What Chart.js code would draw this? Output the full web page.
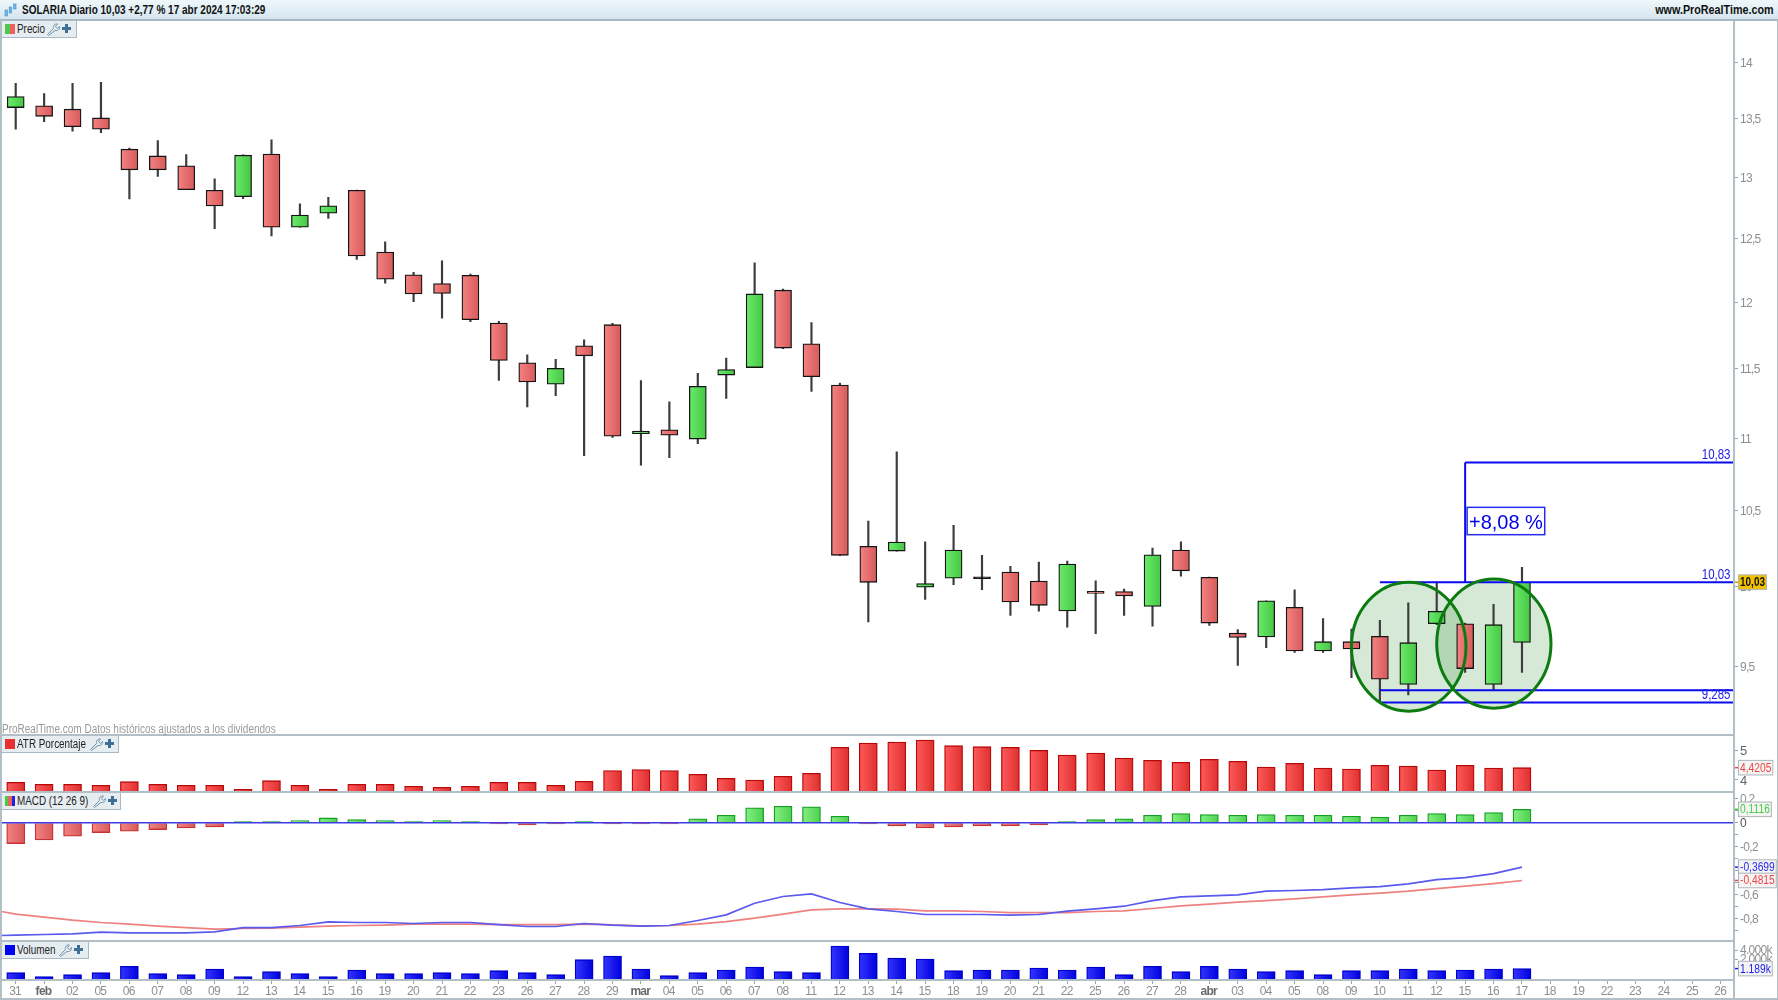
<!DOCTYPE html>
<html lang="es"><head><meta charset="utf-8"><title>SOLARIA Diario</title>
<script src="https://cdn.jsdelivr.net/npm/chart.js@4/dist/chart.umd.min.js"></script>
<style>
html,body{margin:0;padding:0;background:#fff;width:1778px;height:1000px;overflow:hidden}
#page{position:relative;width:1778px;height:1000px;font-family:"Liberation Sans",Arial,sans-serif;filter:blur(.35px)}
canvas{position:absolute;left:0;display:block}
.hdr{position:absolute;left:0;top:0;width:1778px;height:19px;background:linear-gradient(#eef7fb,#d5e6ef);border-bottom:2px solid #a9b9c3;box-sizing:content-box}
.hdr span{position:absolute;top:3px;font:bold 12.5px "Liberation Sans",Arial,sans-serif;color:#111;white-space:nowrap}
.sep{position:absolute;background:#b3bfc6}
.pill{position:absolute;left:2px;height:16px;box-sizing:content-box;background:#e6edf1;border-right:1px solid #a9b9c3;border-bottom:1px solid #a9b9c3;font-size:12.5px;color:#222;line-height:17px;white-space:nowrap}
.pill b{font-weight:normal;position:absolute;left:15px;top:0;transform:scaleX(.79);transform-origin:0 0}
.pill svg{position:absolute;top:2px}
.pill i{position:absolute;top:3px;left:3px;width:10px;height:10px}
#note{position:absolute;left:2px;top:722px;font-size:12.5px;color:#9a9a9a;white-space:nowrap;transform:scaleX(.8);transform-origin:0 0}
</style></head><body><div id="page">
<div class="hdr">
<svg style="position:absolute;left:4px;top:3px" width="13" height="15" viewBox="0 0 13 15"><g fill="#6fb5e6" stroke="#4f9ad0" stroke-width=".7"><rect x="1" y="7" width="2.4" height="6"/><rect x="5.2" y="4" width="2.4" height="6"/><rect x="9.6" y="1" width="2.4" height="5"/></g></svg>
<span style="left:22px;transform-origin:0 0;transform:scaleX(.8)">SOLARIA Diario 10,03 +2,77 % 17 abr 2024 17:03:29</span>
<span style="right:4px;transform-origin:100% 0;transform:scaleX(.86)">www.ProRealTime.com</span>
</div>
<canvas id="cPrice" width="1778" height="714" style="top:20px"></canvas>
<canvas id="cAtr" width="1778" height="57" style="top:735px"></canvas>
<canvas id="cMacd" width="1778" height="149" style="top:792px"></canvas>
<canvas id="cVol" width="1778" height="58" style="top:941px"></canvas>
<div class="sep" style="left:0;top:20px;width:2px;height:979px"></div>
<div class="sep" style="left:1733px;top:20px;width:2px;height:979px"></div>
<div class="sep" style="left:0;top:734px;width:1734px;height:2px"></div>
<div class="sep" style="left:0;top:791px;width:1734px;height:2px"></div>
<div class="sep" style="left:0;top:940px;width:1734px;height:2px"></div>
<div class="sep" style="left:0;top:979px;width:1734px;height:2px"></div>
<div class="sep" style="left:0;top:998px;width:1778px;height:2px"></div>
<div class="sep" style="left:1777px;top:20px;width:1px;height:979px"></div>
<div id="note">ProRealTime.com Datos históricos ajustados a los dividendos</div>
<div class="pill" style="top:21px;width:74px"><i style="background:linear-gradient(90deg,#4cc84c 50%,#ee6060 50%)"></i><b>Precio</b><svg style="left:45px" width="13" height="13" viewBox="0 0 13 13"><path d="M1.500 12.500l-1-1 6-6C5.800 3 7.500.5 10.500 1L8.500 3.200l.8 1.300 1.300.8L12.500 3.500C13 6.500 10.500 8 8 7.500z" fill="none" stroke="#6f93ad"/></svg><svg style="left:59px" width="11" height="11" viewBox="0 0 11 11"><path d="M4 1h3v3h3v3H7v3H4V7H1V4h3z" fill="#3f6f94"/></svg></div>
<div class="pill" style="top:736px;width:116px"><i style="background:#e83030"></i><b>ATR Porcentaje</b><svg style="left:88px" width="13" height="13" viewBox="0 0 13 13"><path d="M1.500 12.500l-1-1 6-6C5.800 3 7.500.5 10.500 1L8.500 3.200l.8 1.300 1.300.8L12.500 3.500C13 6.500 10.500 8 8 7.500z" fill="none" stroke="#6f93ad"/></svg><svg style="left:102px" width="11" height="11" viewBox="0 0 11 11"><path d="M4 1h3v3h3v3H7v3H4V7H1V4h3z" fill="#3f6f94"/></svg></div>
<div class="pill" style="top:793px;width:118px"><i style="background:linear-gradient(90deg,#4cc84c 33%,#ee6060 33%,#ee6060 66%,#2020e0 66%)"></i><b>MACD (12 26 9)</b><svg style="left:91px" width="13" height="13" viewBox="0 0 13 13"><path d="M1.500 12.500l-1-1 6-6C5.800 3 7.500.5 10.500 1L8.500 3.200l.8 1.300 1.300.8L12.500 3.500C13 6.500 10.500 8 8 7.500z" fill="none" stroke="#6f93ad"/></svg><svg style="left:105px" width="11" height="11" viewBox="0 0 11 11"><path d="M4 1h3v3h3v3H7v3H4V7H1V4h3z" fill="#3f6f94"/></svg></div>
<div class="pill" style="top:942px;width:86px"><i style="background:#0000f0"></i><b>Volumen</b><svg style="left:57px" width="13" height="13" viewBox="0 0 13 13"><path d="M1.500 12.500l-1-1 6-6C5.800 3 7.500.5 10.500 1L8.500 3.200l.8 1.300 1.300.8L12.500 3.500C13 6.500 10.500 8 8 7.500z" fill="none" stroke="#6f93ad"/></svg><svg style="left:71px" width="11" height="11" viewBox="0 0 11 11"><path d="M4 1h3v3h3v3H7v3H4V7H1V4h3z" fill="#3f6f94"/></svg></div>
</div>
<script>
const dates=["31","feb","02","05","06","07","08","09","12","13","14","15","16","19","20","21","22","23","26","27","28","29","mar","04","05","06","07","08","11","12","13","14","15","18","19","20","21","22","25","26","27","28","abr","03","04","05","08","09","10","11","12","15","16","17","18","19","22","23","24","25","26"];
const opens=[13.599,13.614,13.585,13.509,13.241,13.184,13.101,12.897,12.844,13.199,12.594,12.708,12.897,12.395,12.216,12.147,12.212,11.844,11.545,11.388,11.672,11.831,11.033,11.059,10.994,11.455,11.51,12.096,11.687,11.381,10.263,10.232,9.998,10.055,10.052,10.095,10.037,9.846,9.969,9.969,9.875,10.239,10.061,9.707,9.683,9.869,9.597,9.654,9.687,9.393,9.766,9.766,9.393,9.65];
const highs=[13.813,13.721,13.813,13.821,13.25,13.314,13.195,12.991,13.193,13.32,12.784,12.839,12.899,12.477,12.235,12.326,12.222,11.857,11.605,11.571,11.717,11.841,11.415,11.26,11.468,11.58,12.31,12.104,11.848,11.396,10.431,10.905,10.293,10.403,10.204,10.132,10.16,10.167,10.038,9.986,10.252,10.293,10.063,9.73,9.91,9.98,9.798,9.733,9.788,9.898,10.03,9.77,9.888,10.125];
const lows=[13.411,13.476,13.394,13.382,12.825,13.011,12.902,12.583,12.828,12.525,12.594,12.666,12.336,12.151,12.008,11.88,11.854,11.415,11.224,11.305,10.877,11.005,10.812,10.863,10.961,11.284,11.51,11.65,11.335,10.202,9.778,10.232,9.92,10.014,9.981,9.818,9.845,9.745,9.704,9.818,9.751,10.068,9.755,9.508,9.617,9.588,9.588,9.434,9.286,9.33,9.76,9.466,9.36,9.466];
const closes=[13.695,13.523,13.434,13.411,13.067,13.067,12.902,12.768,13.19,12.594,12.693,12.768,12.365,12.181,12.067,12.07,11.869,11.563,11.405,11.504,11.597,11.015,11.05,11.022,11.373,11.495,12.067,11.655,11.443,10.204,10.029,10.291,10.021,10.239,10.052,9.903,9.882,10.147,9.958,9.941,10.208,10.103,9.77,9.68,9.91,9.597,9.654,9.609,9.425,9.648,9.844,9.489,9.76,10.03];
const atrValues=[3.92,3.852,3.852,3.818,3.943,3.852,3.818,3.818,3.681,3.977,3.818,3.681,3.852,3.852,3.784,3.75,3.784,3.92,3.92,3.818,3.954,4.319,4.353,4.319,4.193,4.057,4,4.125,4.228,5.115,5.263,5.297,5.365,5.172,5.138,5.115,5.013,4.853,4.922,4.751,4.671,4.603,4.705,4.637,4.444,4.569,4.41,4.375,4.5,4.478,4.341,4.5,4.41,4.4205];
const macdHist=[-.174,-.143,-.1125,-.082,-.071,-.057,-.043,-.035,.01,.01,.018,.04,.026,.018,.01,.018,.01,-.01,-.018,-.01,.01,-.01,-.01,-.01,.032,.0625,.124,.1375,.132,.054,-.01,-.026,-.043,-.035,-.026,-.026,-.018,.01,.026,.032,.0625,.076,.068,.0625,.068,.0625,.0625,.054,.046,.0625,.076,.068,.085,.1116];
const macdLine=[-.9375,-.932,-.926,-.9125,-.918,-.918,-.918,-.91,-.874,-.874,-.857,-.826,-.832,-.832,-.84,-.832,-.832,-.849,-.865,-.865,-.84,-.854,-.8625,-.857,-.815,-.768,-.671,-.615,-.593,-.665,-.718,-.74,-.765,-.765,-.765,-.771,-.765,-.7375,-.718,-.696,-.649,-.618,-.61,-.601,-.571,-.565,-.557,-.543,-.532,-.51,-.474,-.457,-.424,-.3699];
const macdSignal=[-.7625,-.7875,-.8125,-.832,-.846,-.8625,-.874,-.8875,-.882,-.879,-.871,-.8625,-.857,-.854,-.846,-.846,-.846,-.849,-.849,-.849,-.846,-.851,-.86,-.857,-.846,-.824,-.796,-.7625,-.726,-.718,-.718,-.721,-.735,-.735,-.74,-.749,-.749,-.749,-.74,-.735,-.715,-.693,-.679,-.6625,-.649,-.635,-.618,-.601,-.5875,-.571,-.549,-.529,-.507,-.4815];
const macdLeadIn=-.94, signalLeadIn=-.74;
const volumes=[763,347,555,763,1423,659,555,1145,347,868,659,347,1041,659,659,763,659,972,763,555,2117,2498,1145,451,763,1041,1353,868,763,3539,2776,2290,2186,972,1041,1041,1249,1041,1353,555,1423,868,1423,1145,868,972,555,972,972,1145,972,1041,1145,1189];
const priceTicks=[14,13.5,13,12.5,12,11.5,11,10.5,10,9.5];
const atrTicks=[5,4];
const macdTicks=[.2,.1,0,-.1,-.2,-.3,-.4,-.5,-.6,-.7,-.8,-.9];
const volTickValues=[3100,2150];
const volTickLabels=["4.000k","2.000k"];
const levels=[10.83,10.03,9.358,9.285];
const levelLabels=["10,83","10,03","","9,285"];
const levelStarts=[51,48,48,48];
const ellipses=[{x0:47,x1:51.03,top:10.03,bottom:9.233},{x0:50,x1:54.02,top:10.05,bottom:9.251}];
const pctBox={x0:51.07,x1:53.8,top:10.523,bottom:10.34,text:"+8,08 %"};

const FONT='"Liberation Sans",Arial,sans-serif';
Chart.defaults.font.family=FONT;
Chart.defaults.font.size=12;
const comma=v=>String(+v.toFixed(4)).replace('.',',');
const XMIN=-.5,XMAX=60.46,AXW=44;
const noPad=s=>{s.paddingLeft=s.paddingRight=s.paddingTop=s.paddingBottom=0;};
function xScale(show){return {type:'linear',min:XMIN,max:XMAX,offset:false,stacked:true,display:show,
  afterBuildTicks:s=>{s.ticks=dates.map((d,i)=>({value:i}))},
  afterFit:s=>{s.height=show?19:0;noPad(s);},
  grid:{display:true,offset:false,drawOnChartArea:false,drawTicks:true,tickLength:4,tickColor:'#9aa6ad'},
  border:{display:false},
  ticks:{autoSkip:false,maxRotation:0,padding:0,labelOffset:-.6,
    callback:v=>dates[v],
    color:c=>/\d/.test(dates[c.index]||'1')?'#8f8f8f':'#6a6a6a',
    font:c=>({family:FONT,size:12,weight:/\d/.test(dates[c.index]||'1')?'normal':'bold'})}};}
function yScale(o){return Object.assign({position:'right',
  afterFit:s=>{s.width=AXW;noPad(s);},
  border:{display:false},
  grid:{drawOnChartArea:false,drawTicks:true,tickLength:4,tickColor:'#9aa6ad'},
  },o);}
function grad(chart,i,w,c1,c2){
  const px=chart.scales.x.getPixelForValue(i);
  if(!isFinite(px))return c2;
  const g=chart.ctx.createLinearGradient(px-w/2,0,px+w/2,0);
  g.addColorStop(0,c1);g.addColorStop(1,c2);return g;}
const idx=a=>a.map((v,i)=>({x:i,y:v}));
function narrow(c,text,x,y,align,sx){
  c.save();c.translate(x,y);c.scale(sx,1);c.textAlign=align;c.fillText(text,0,0);c.restore();}
const condensePlugin={id:'condense',beforeDraw(chart){chart.ctx.letterSpacing='-.7px';}};
const tagPlugin={id:'tags',afterDraw(chart){
  const items=chart.options.plugins.tags&&chart.options.plugins.tags.items;if(!items)return;
  const c=chart.ctx,y=chart.scales.y;
  c.save();c.letterSpacing='0px';c.textBaseline='middle';c.textAlign='left';
  items.forEach(t=>{
    c.font=(t.bold?'bold ':'')+'12.5px '+FONT;
    const p=y.getPixelForValue(t.value),w=c.measureText(t.text).width*(t.bold?.8:.82)+3,x=1738.5;
    c.strokeStyle=t.color;c.lineWidth=1.5;c.beginPath();c.moveTo(1734,p);c.lineTo(x,p);c.stroke();
    c.fillStyle=t.bg||'#f4f4f4';c.fillRect(x,p-7.3,w,14.6);
    c.strokeStyle='#aeb6ba';c.lineWidth=1;c.strokeRect(x,p-7.3,w,14.6);
    c.fillStyle=t.fg||t.color;narrow(c,t.text,x+1.5,p+.5,'left',t.bold?.8:.82);
  });c.restore();}};
function ellipsePath(chart,e){
  const X=chart.scales.x,Y=chart.scales.y,c=chart.ctx;
  const l=X.getPixelForValue(e.x0),r=X.getPixelForValue(e.x1),t=Y.getPixelForValue(e.top),b=Y.getPixelForValue(e.bottom);
  c.beginPath();c.ellipse((l+r)/2,(t+b)/2,(r-l)/2,(b-t)/2,0,0,Math.PI*2);}
const drawingsPlugin={id:'drawings',
 beforeDatasetsDraw(chart){
  const c=chart.ctx;c.save();
  ellipses.forEach(e=>{ellipsePath(chart,e);c.fillStyle='rgba(0,120,0,.16)';c.fill();});
  c.restore();},
 afterDatasetsDraw(chart){
  const c=chart.ctx,X=chart.scales.x,Y=chart.scales.y;
  c.save();c.letterSpacing='0px';
  ellipses.forEach(e=>{ellipsePath(chart,e);c.strokeStyle='#0c7c10';c.lineWidth=3;c.stroke();});
  const l=X.getPixelForValue(pctBox.x0),r=X.getPixelForValue(pctBox.x1),t=Y.getPixelForValue(pctBox.top),b=Y.getPixelForValue(pctBox.bottom);
  c.fillStyle='#fff';c.fillRect(l,t,r-l,b-t);c.strokeStyle='#2a2af0';c.lineWidth=1.5;c.strokeRect(l,t,r-l,b-t);
  c.fillStyle='#0000e6';c.font='20px '+FONT;c.textAlign='center';c.textBaseline='middle';
  c.fillText(pctBox.text,(l+r)/2,(t+b)/2+2.5);
  c.font='14px '+FONT;c.textBaseline='middle';c.fillStyle='#2020e8';
  levels.forEach((v,i)=>{if(levelLabels[i])narrow(c,levelLabels[i],1730.5,Y.getPixelForValue(v)-7,'right',.82);});
  c.restore();}};
function base(datasets,scales,extra){return {type:'bar',data:{datasets},
  options:{responsive:false,animation:false,devicePixelRatio:1,events:[],
    layout:{autoPadding:false,padding:{left:1.5,right:0,top:0,bottom:0}},
    plugins:Object.assign({legend:{display:false},tooltip:{enabled:false}},extra||{}),scales}};}
const dir=i=>closes[i]>opens[i]?1:closes[i]<opens[i]?-1:0;

new Chart(document.getElementById('cPrice'),Object.assign(base([
  {label:'Mecha',order:5,data:opens.map((o,i)=>({x:i,y:[lows[i],highs[i]]})),barThickness:1.5,backgroundColor:'#3c3c3c',borderWidth:0,borderSkipped:false},
  {label:'Precio',order:4,data:opens.map((o,i)=>({x:i,y:[o,closes[i]]})),barThickness:17,minBarLength:2,borderWidth:1.3,borderSkipped:false,borderColor:'#141414',
    backgroundColor:c=>{if(c.dataIndex===undefined)return '#888';const d=dir(c.dataIndex);
      return d>0?grad(c.chart,c.dataIndex,17,'#6aec6a','#45c645'):d<0?grad(c.chart,c.dataIndex,17,'#f58282','#d65a5a'):'#111';}},
  ...levels.map((v,i)=>({type:'line',order:2,data:[{x:levelStarts[i],y:v},{x:XMAX,y:v}],borderColor:'#0a0aee',borderWidth:2,pointRadius:0})),
  {type:'line',order:2,data:[{x:levelStarts[0],y:levels[0]},{x:levelStarts[0],y:levels[1]}],borderColor:'#0a0aee',borderWidth:2,pointRadius:0}
],{x:xScale(false),y:yScale({type:'logarithmic',min:9.099,max:14.385,
  afterBuildTicks:s=>{s.ticks=priceTicks.map(v=>({value:v}))},
  ticks:{autoSkip:false,padding:2,labelOffset:1,color:'#8f8f8f',font:{size:12},callback:v=>comma(v)}})},
  {tags:{items:[{value:closes[closes.length-1],text:'10,03',color:'#c79a00',bg:'#f2c200',fg:'#111',bold:true}]}}),{plugins:[condensePlugin,drawingsPlugin,tagPlugin]}));

new Chart(document.getElementById('cAtr'),Object.assign(base([
  {label:'ATR Porcentaje',data:idx(atrValues),barThickness:18,borderWidth:1.3,borderColor:'#b80808',borderSkipped:'bottom',
   backgroundColor:c=>c.dataIndex===undefined?'#e33':grad(c.chart,c.dataIndex,18,'#ff5a5a','#dd3030')}
],{x:xScale(false),y:yScale({min:3.59,max:5.536,
  afterBuildTicks:s=>{s.ticks=atrTicks.map(v=>({value:v}))},
  ticks:{autoSkip:false,padding:2,labelOffset:1,color:'#666',font:{size:13},callback:v=>comma(v)}})},
  {tags:{items:[{value:atrValues[atrValues.length-1],text:'4,4205',color:'#ee4444'}]}}),{plugins:[condensePlugin,tagPlugin]}));

new Chart(document.getElementById('cMacd'),Object.assign(base([
  {label:'Histograma',order:5,data:idx(macdHist),barThickness:18,borderWidth:1.3,borderSkipped:'bottom',
   borderColor:c=>macdHist[c.dataIndex]>=0?'#14a024':'#c83232',
   backgroundColor:c=>{if(c.dataIndex===undefined)return '#888';return macdHist[c.dataIndex]>=0?grad(c.chart,c.dataIndex,18,'#82f082','#4fd04f'):grad(c.chart,c.dataIndex,18,'#f28484','#d85a5a');}},
  {type:'line',label:'Cero',order:3,data:[{x:XMIN,y:0},{x:XMAX,y:0}],borderColor:'#3c3ce6',borderWidth:1.6,pointRadius:0},
  {type:'line',label:'Señal',order:2,data:[{x:XMIN,y:signalLeadIn},...idx(macdSignal)],borderColor:'#ee8080',borderWidth:1.7,pointRadius:0},
  {type:'line',label:'MACD',order:1,data:[{x:XMIN,y:macdLeadIn},...idx(macdLine)],borderColor:'#5a5aee',borderWidth:1.7,pointRadius:0}
],{x:xScale(false),y:yScale({min:-.986,max:.256,
  afterBuildTicks:s=>{s.ticks=macdTicks.map(v=>({value:v}))},
  ticks:{autoSkip:false,padding:2,labelOffset:1,color:c=>c.tick&&c.tick.value===0?'#555':'#8f8f8f',font:{size:12},
    callback:v=>Math.round(v*10)%2===0?comma(v):''}})},
  {tags:{items:[
    {value:macdHist[macdHist.length-1],text:'0,1116',color:'#46cc46'},
    {value:macdLine[macdLine.length-1],text:'-0,3699',color:'#2a2aee'},
    {value:macdSignal[macdSignal.length-1],text:'-0,4815',color:'#ee4444'}]}}),{plugins:[condensePlugin,tagPlugin]}));

new Chart(document.getElementById('cVol'),Object.assign(base([
  {label:'Volumen',data:idx(volumes),barThickness:18,borderWidth:1.3,borderColor:'#0000cc',borderSkipped:'bottom',
   backgroundColor:c=>c.dataIndex===undefined?'#00f':grad(c.chart,c.dataIndex,18,'#3535ff','#0000dc')}
],{x:xScale(true),y:yScale({min:0,max:4062,
  afterBuildTicks:s=>{s.ticks=volTickValues.map(v=>({value:v}))},
  ticks:{autoSkip:false,padding:2,color:'#8f8f8f',font:{size:12},callback:(v,i)=>volTickLabels[i]}})},
  {tags:{items:[{value:volumes[volumes.length-1],text:'1.189k',color:'#1a1aee'}]}}),{plugins:[condensePlugin,tagPlugin]}));
</script></body></html>
